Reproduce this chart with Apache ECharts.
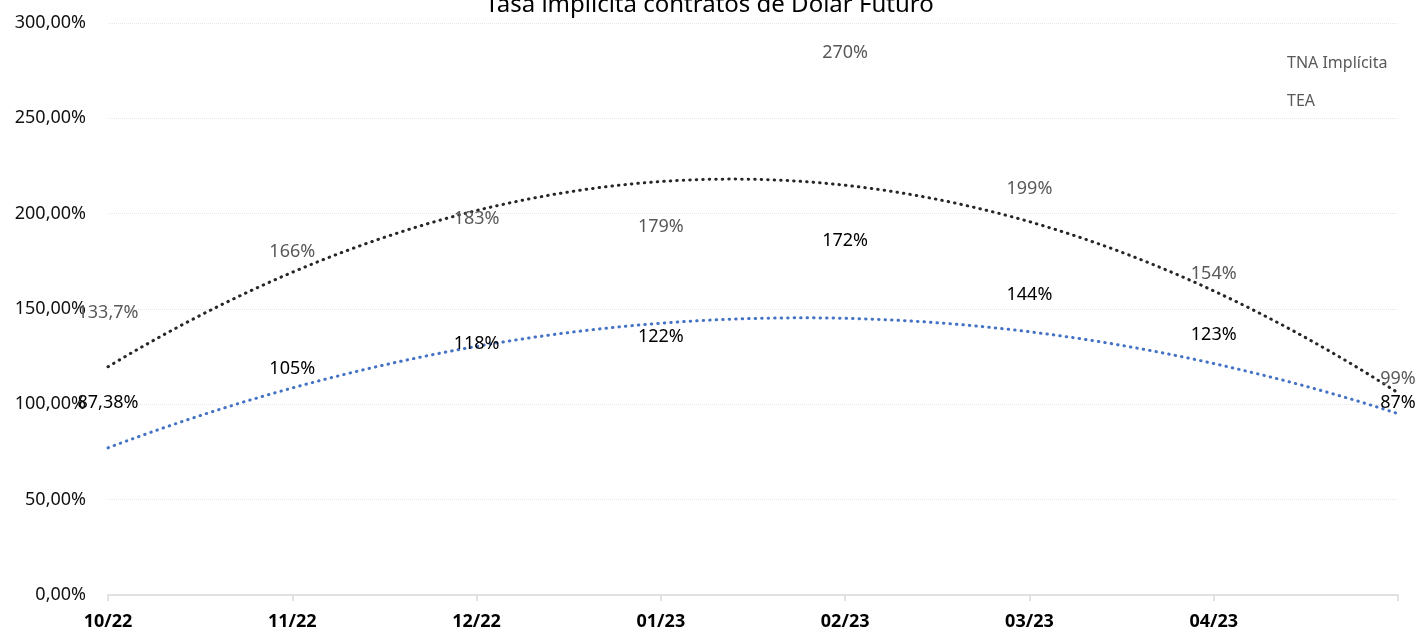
<!DOCTYPE html>
<html>
<head>
<meta charset="utf-8">
<script src="https://cdn.jsdelivr.net/npm/echarts@6/dist/echarts.min.js"></script>
<style>
html,body{margin:0;padding:0;background:#fff;}
#chart{width:1419px;height:630px;}
</style>
</head>
<body>
<div id="chart"></div>
<script>
const categories = ['10/22', '11/22', '12/22', '01/23', '02/23', '03/23', '04/23', ''];
const tnaImplicita = [133.7, 166, 183, 179, 270, 199, 154, 99];
const tea = [87.38, 105, 118, 122, 172, 144, 123, 87];
const yTicks = [0, 50, 100, 150, 200, 250, 300];

// Quadratic (order 2) least-squares trend line, as in the original chart
function quadCoef(ys) {
  const n = ys.length;
  let sx = 0, sx2 = 0, sx3 = 0, sx4 = 0, sy = 0, sxy = 0, sx2y = 0;
  ys.forEach((y, x) => {
    sx += x; sx2 += x * x; sx3 += x ** 3; sx4 += x ** 4;
    sy += y; sxy += x * y; sx2y += x * x * y;
  });
  const M = [[n, sx, sx2, sy], [sx, sx2, sx3, sxy], [sx2, sx3, sx4, sx2y]];
  for (let i = 0; i < 3; i++) {
    for (let k = i + 1; k < 3; k++) {
      const f = M[k][i] / M[i][i];
      for (let j = i; j < 4; j++) M[k][j] -= f * M[i][j];
    }
  }
  const c = [0, 0, 0];
  for (let i = 2; i >= 0; i--) {
    let s = M[i][3];
    for (let j = i + 1; j < 3; j++) s -= M[i][j] * c[j];
    c[i] = s / M[i][i];
  }
  return c;
}
function trend(ys) {
  const c = quadCoef(ys);
  const out = [];
  const last = ys.length - 1;
  for (let k = 0; k <= last * 40; k++) {
    const x = k / 40;
    out.push([x, c[0] + c[1] * x + c[2] * x * x]);
  }
  return out;
}
const pairs = ys => ys.map((v, i) => [i, v]);

const fmtLabel = p => String(p.value[1]).replace('.', ',') + '%';
const font = '"Noto Sans", "Open Sans", sans-serif';

const chart = echarts.init(document.getElementById('chart'));
chart.setOption({
  animation: false,
  backgroundColor: '#ffffff',
  title: {
    text: 'Tasa implícita contratos de Dólar Futuro',
    left: 'center',
    top: -12,
    textStyle: { fontFamily: font, fontSize: 24, fontWeight: 'normal', color: '#000000' }
  },
  legend: {
    data: ['TNA Implícita', 'TEA'],
    orient: 'vertical',
    left: 1277,
    top: 46,
    itemGap: 18,
    icon: 'none',
    itemWidth: 0,
    itemHeight: 24,
    textStyle: { fontFamily: font, fontSize: 16, color: '#595959' }
  },
  grid: { left: 108, right: 21, top: 23, bottom: 35, containLabel: false, outerBoundsMode: 'none' },
  xAxis: {
    type: 'value',
    min: 0,
    max: categories.length - 1,
    interval: 1,
    axisLine: { lineStyle: { color: '#D9D9D9', width: 1.5 } },
    axisTick: { show: true, length: 6, lineStyle: { color: '#D9D9D9', width: 1.5 } },
    axisLabel: {
      fontFamily: font, fontSize: 18, fontWeight: 'bold', color: '#000000', margin: 18,
      formatter: v => categories[v] || ''
    },
    splitLine: { show: false }
  },
  yAxis: {
    type: 'value',
    min: yTicks[0],
    max: yTicks[yTicks.length - 1],
    interval: 50,
    axisLine: { show: false },
    axisTick: { show: false },
    axisLabel: {
      fontFamily: font, fontSize: 18, color: '#111111', margin: 22,
      formatter: v => v.toFixed(2).replace('.', ',') + '%'
    },
    splitLine: { lineStyle: { color: '#E6E6E6', type: 'dotted', width: 1 } }
  },
  series: [
    {
      name: 'TNA Implícita',
      type: 'line',
      data: pairs(tnaImplicita),
      symbol: 'circle',
      symbolSize: 0,
      lineStyle: { opacity: 0 },
      itemStyle: { color: '#595959' },
      label: {
        show: true, position: 'top', distance: 18,
        fontFamily: font, fontSize: 18, color: '#595959', formatter: fmtLabel
      },
      z: 5
    },
    {
      name: 'TEA',
      type: 'line',
      data: pairs(tea),
      symbol: 'circle',
      symbolSize: 0,
      lineStyle: { opacity: 0 },
      itemStyle: { color: '#000000' },
      label: {
        show: true, position: 'top', distance: 17,
        fontFamily: font, fontSize: 18, color: '#000000', formatter: fmtLabel
      },
      z: 5
    },
    {
      name: 'Tendencia TNA',
      type: 'line',
      data: trend(tnaImplicita),
      symbol: 'none',
      silent: true,
      lineStyle: { color: '#262626', type: [0.5, 6], width: 3, cap: 'round' },
      z: 3
    },
    {
      name: 'Tendencia TEA',
      type: 'line',
      data: trend(tea),
      symbol: 'none',
      silent: true,
      lineStyle: { color: '#4472C4', type: [0.5, 6], width: 3, cap: 'round' },
      z: 3
    }
  ]
});
</script>
</body>
</html>
